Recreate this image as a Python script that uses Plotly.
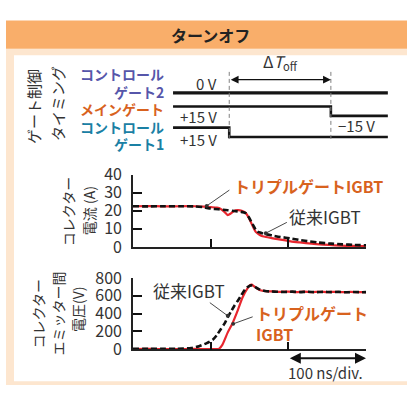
import plotly.graph_objects as go

# ---------------- data ----------------
# Gate drive timing (ns, V)
gate_t_start, t_off_start, t_off_end, gate_t_end = 52, 125, 257, 331
gate2_t = [gate_t_start, gate_t_end]
gate2_v = [0, 0]
main_t = [gate_t_start, t_off_end, t_off_end, gate_t_end]
main_v = [15, 15, -15, -15]
gate1_t = [gate_t_start, t_off_start, t_off_start, gate_t_end]
gate1_v = [15, 15, -15, -15]

# Collector current (A) vs time (ns)
t_cur_triple = [0, 20, 40, 60, 80, 92, 100, 108, 113, 118, 122, 126, 130, 135, 140, 145,
                149, 152, 155, 158, 162, 165, 170, 175, 182, 190, 203, 215, 230, 245,
                260, 275, 290, 300]
i_cur_triple = [22.5, 22.6, 22.4, 22.5, 22.5, 22.3, 22.0, 21.7, 21.0, 19.2, 17.6, 18.5,
                19.9, 20.3, 20.0, 18.8, 16.2, 13.5, 10.7, 8.3, 7.0, 6.2, 5.6, 5.2, 4.6,
                4.0, 3.1, 2.5, 1.8, 1.3, 0.9, 0.6, 0.45, 0.4]
t_cur_conv = [0, 20, 40, 60, 80, 90, 100, 110, 122, 130, 139, 145, 149, 152, 155, 158,
              161, 165, 168, 174, 182, 190, 203, 215, 228, 239, 255, 270, 285, 300]
i_cur_conv = [22.5, 22.4, 22.5, 22.5, 22.4, 22.0, 21.2, 20.8, 20.3, 19.9, 19.4, 18.7,
              16.5, 14.2, 11.8, 9.5, 8.3, 7.8, 7.3, 6.8, 6.1, 5.5, 4.7, 3.8, 3.0, 2.4,
              1.8, 1.4, 1.1, 0.9]

# Collector-emitter voltage (V) vs time (ns)
t_v_triple = [0, 20, 40, 60, 80, 100, 108, 111, 115, 122, 128, 135, 141, 148, 151, 153,
              156, 160, 163, 168, 174, 180, 190, 200, 210, 220, 230, 240, 250, 260, 270,
              280, 290, 300]
v_triple = [3, 4, 3, 3, 4, 3, 3, 8, 50, 190, 290, 440, 580, 690, 722, 725, 705, 680, 665,
            655, 650, 648, 644, 647, 641, 646, 640, 645, 641, 644, 640, 643, 640, 641]
t_v_conv = [0, 20, 40, 55, 65, 75, 85, 95, 103, 108, 113, 118, 122, 126, 130, 135, 139,
            145, 148, 152, 155, 158, 162, 167, 172, 178, 185, 195, 205, 215, 225, 235,
            245, 255, 265, 275, 285, 295, 300]
v_conv = [6, 5, 6, 6, 8, 14, 35, 70, 110, 160, 225, 290, 360, 420, 480, 545, 600, 680,
          700, 716, 712, 695, 675, 660, 650, 648, 645, 642, 646, 641, 645, 640, 644, 641,
          643, 639, 642, 640, 641]

# ---------------- style ----------------
W, H = 407, 396
FONT = "Noto Sans CJK JP, Noto Sans, sans-serif"
RED = "#E8262E"
ORANGE = "#D8621E"
PURPLE = "#5656AA"
TEAL = "#1A80A4"
TXT = "#333333"
AX = "#222222"


def fx(p):
    return p / W


def fy(p):
    return 1 - p / H


# Vertical layout of the timing rows (display units of volts)
ROW_OFFSET = {"gate2": 58.5, "main": 0.0, "gate1": -67.5}
ARROW_ROW = 100.5  # height of the ΔT_off arrow in the timing block

fig = go.Figure()

# timing traces
for t, v, key in [(gate2_t, gate2_v, "gate2"), (main_t, main_v, "main"),
                  (gate1_t, gate1_v, "gate1")]:
    fig.add_trace(go.Scatter(
        x=t, y=[val + ROW_OFFSET[key] for val in v], mode="lines",
        line=dict(color="#151515", width=3.2 if key == "gate2" else 2.6),
        xaxis="x4", yaxis="y4", showlegend=False, hoverinfo="skip"))

# current
fig.add_trace(go.Scatter(x=t_cur_triple, y=i_cur_triple, mode="lines",
                         line=dict(color=RED, width=2.2, shape="spline", smoothing=0.6),
                         xaxis="x2", yaxis="y2", showlegend=False))
fig.add_trace(go.Scatter(x=t_cur_conv, y=i_cur_conv, mode="lines",
                         line=dict(color="#111111", width=2.6, dash="6px,3px",
                                   shape="spline", smoothing=0.6),
                         xaxis="x2", yaxis="y2", showlegend=False))
# voltage
fig.add_trace(go.Scatter(x=t_v_triple, y=v_triple, mode="lines",
                         line=dict(color=RED, width=2.2, shape="spline", smoothing=0.6),
                         xaxis="x3", yaxis="y3", showlegend=False))
fig.add_trace(go.Scatter(x=t_v_conv, y=v_conv, mode="lines",
                         line=dict(color="#111111", width=2.6, dash="6px,3px",
                                   shape="spline", smoothing=0.6),
                         xaxis="x3", yaxis="y3", showlegend=False))

shapes = [
    # header band and frame
    dict(type="rect", xref="paper", yref="paper", x0=fx(6), x1=1, y0=fy(396), y1=fy(38),
         fillcolor="#FDE6CF", line_width=0, layer="below"),
    dict(type="rect", xref="paper", yref="paper", x0=fx(14), x1=1, y0=fy(392), y1=fy(45),
         fillcolor="white", line_width=0, layer="below"),
    dict(type="rect", xref="paper", yref="paper", x0=fx(6), x1=1, y0=fy(38), y1=fy(8),
         fillcolor="#F9AE6A", line_width=0, layer="below"),
]
# dashed markers of the turn-off interval
for tx in (t_off_start, t_off_end):
    shapes.append(dict(type="line", xref="x4", yref="paper", x0=tx, x1=tx,
                       y0=fy(134), y1=fy(62), line=dict(color="#808080", width=1, dash="4px,3px")))

ann = []


def text(x, y, s, size=15, color=TXT, xanchor="center", bold=False, angle=0):
    ann.append(dict(x=fx(x), y=fy(y), xref="paper", yref="paper", text=s, showarrow=False,
                    xanchor=xanchor, yanchor="middle", textangle=angle,
                    font=dict(family=FONT, size=size, color=color,
                              weight="bold" if bold else "normal")))


text(210, 23, "ターンオフ", size=16, color="#222222", bold=True)

# timing block
text(34, 100, "ゲート制御", size=15, angle=-90)
text(57, 97, "タイミング", size=15, angle=-90)
text(166, 65, "コントロール", size=14, color=PURPLE, xanchor="right", bold=True)
text(166, 84, "ゲート2", size=14, color=PURPLE, xanchor="right", bold=True)
text(166, 102, "メインゲート", size=14, color=ORANGE, xanchor="right", bold=True)
text(166, 121, "コントロール", size=14, color=TEAL, xanchor="right", bold=True)
text(166, 139, "ゲート1", size=14, color=TEAL, xanchor="right", bold=True)
text(219, 75, "0 V", size=15, xanchor="right")
text(219, 110, "+15 V", size=15, xanchor="right")
text(219, 135, "+15 V", size=15, xanchor="right")
text(336, 120, "−15 V", size=15, xanchor="left")
text(280, 52, "Δ<i>T</i><sub>off</sub>", size=16)
ann.append(dict(x=t_off_end, y=ARROW_ROW, xref="x4", yref="y4", ax=t_off_start, ay=0,
                axref="x4", ayref="pixel", text="", showarrow=True, arrowside="end+start",
                arrowhead=2, arrowsize=1.2, arrowwidth=1.3, arrowcolor="#111111",
                standoff=0, startstandoff=0, startarrowhead=2, startarrowsize=1.2))

# axis titles
text(68, 212, "コレクター", size=14, angle=-90)
text(89, 211, "電流 (A)", size=14, angle=-90)
text(38, 321, "コレクター", size=14, angle=-90)
text(58, 320, "エミッター間", size=14, angle=-90)
text(78, 315, "電圧(V)", size=14, angle=-90)

# series labels with leader lines
text(232, 184, "トリプルゲートIGBT", size=16, color=ORANGE, xanchor="left", bold=True)
text(287, 217, "従来IGBT", size=17, xanchor="left")
text(151, 295, "従来IGBT", size=17, xanchor="left")
ann.append(dict(x=fx(254), y=fy(331), xref="paper", yref="paper",
                text="トリプルゲート<br>IGBT", showarrow=False, xanchor="left",
                yanchor="middle", align="left",
                font=dict(family=FONT, size=16, color=ORANGE, weight="bold")))


def leader(xa, ya, x, y, ax, ay):
    ann.append(dict(x=x, y=y, xref=xa, yref=ya, ax=ax, ay=ay, axref=xa, ayref=ya, text="",
                    showarrow=True, arrowhead=6, arrowsize=1.1, arrowwidth=0.9,
                    arrowcolor="#333333", standoff=0))


leader("x2", "y2", 95, 22.7, 126, 32.0)
leader("x2", "y2", 171, 7.6, 200, 14.0)
leader("x3", "y3", 122, 375, 97, 535)
leader("x3", "y3", 129, 285, 156, 370)

# time scale: 100 ns per division, drawn below the voltage axis
ann.append(dict(x=300, y=0, xref="x3", yref="y3", ax=200, ay=0, axref="x3", ayref="pixel",
                yshift=-9, text="", showarrow=True, arrowside="end+start",
                arrowhead=2, arrowsize=1.1, arrowwidth=2, arrowcolor="#111111",
                standoff=0, startstandoff=0))
text(325, 383, "100 ns/div.", size=15)

axis_common = dict(showline=True, linecolor=AX, linewidth=1.6, showgrid=False,
                   zeroline=False, ticks="inside", tickcolor="#111111", tickwidth=2,
                   fixedrange=True)
tickfont = dict(family=FONT, size=16, color=TXT)

x_dom = [fx(133), fx(366)]
fig.update_layout(
    width=W, height=H, margin=dict(l=0, r=0, t=0, b=0),
    paper_bgcolor="white", plot_bgcolor="rgba(0,0,0,0)",
    shapes=shapes, annotations=ann,
    xaxis2=dict(domain=x_dom, range=[0, 300], anchor="y2", tickvals=[100, 200, 300],
                showticklabels=False, ticklen=8, **axis_common),
    yaxis2=dict(domain=[fy(249), fy(172)], range=[0, 40], anchor="x2",
                tickvals=[0, 10, 20, 30, 40], ticklen=9, tickfont=tickfont,
                ticklabelstandoff=6, **axis_common),
    xaxis3=dict(domain=x_dom, range=[0, 300], anchor="y3", tickvals=[100, 200, 300],
                showticklabels=False, ticklen=8, **axis_common),
    yaxis3=dict(domain=[fy(358), fy(282)], range=[0, 800], anchor="x3",
                tickvals=[0, 200, 400, 600, 800], ticklen=9, tickfont=tickfont,
                ticklabelstandoff=6, **axis_common),
    xaxis4=dict(domain=[fx(133), fx(388)], range=[0, 331.2], anchor="y4", visible=False,
                fixedrange=True),
    yaxis4=dict(domain=[fy(140), fy(60)], range=[-106.5, 133.5], anchor="x4",
                visible=False, fixedrange=True),
)

fig.write_html("out.html")
